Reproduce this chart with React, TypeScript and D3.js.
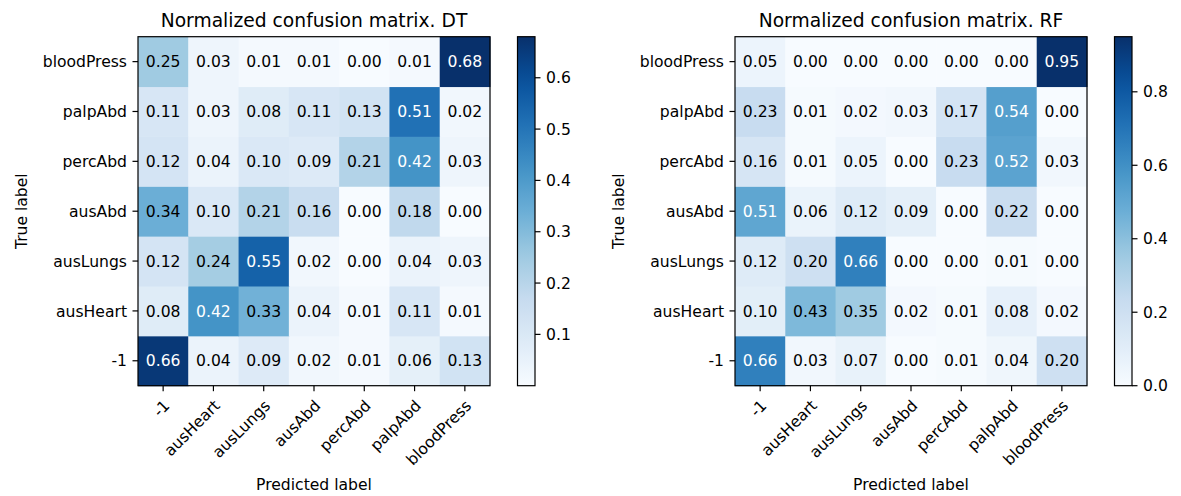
import React from "react";
import * as d3 from "d3";

// class labels, in matrix index order (row / column 0 = "-1")
const labels = ["-1", "ausHeart", "ausLungs", "ausAbd", "percAbd", "palpAbd", "bloodPress"];

// rows = true label, columns = predicted label
const dtValues = [
  [0.66, 0.04, 0.09, 0.02, 0.01, 0.06, 0.13],
  [0.08, 0.42, 0.33, 0.04, 0.01, 0.11, 0.01],
  [0.12, 0.24, 0.55, 0.02, 0.0, 0.04, 0.03],
  [0.34, 0.1, 0.21, 0.16, 0.0, 0.18, 0.0],
  [0.12, 0.04, 0.1, 0.09, 0.21, 0.42, 0.03],
  [0.11, 0.03, 0.08, 0.11, 0.13, 0.51, 0.02],
  [0.25, 0.03, 0.01, 0.01, 0.0, 0.01, 0.68],
];

const rfValues = [
  [0.66, 0.03, 0.07, 0.0, 0.01, 0.04, 0.2],
  [0.1, 0.43, 0.35, 0.02, 0.01, 0.08, 0.02],
  [0.12, 0.2, 0.66, 0.0, 0.0, 0.01, 0.0],
  [0.51, 0.06, 0.12, 0.09, 0.0, 0.22, 0.0],
  [0.16, 0.01, 0.05, 0.0, 0.23, 0.52, 0.03],
  [0.23, 0.01, 0.02, 0.03, 0.17, 0.54, 0.0],
  [0.05, 0.0, 0.0, 0.0, 0.0, 0.0, 0.95],
];

const dtTicks = [0.1, 0.2, 0.3, 0.4, 0.5, 0.6];
const rfTicks = [0.0, 0.2, 0.4, 0.6, 0.8];

// matplotlib "Blues"
const bluesStops = [
  "#f7fbff", "#deebf7", "#c6dbef", "#9ecae1", "#6baed6",
  "#4292c6", "#2171b5", "#08519c", "#08306b",
];

const FONT = "DejaVu Sans, sans-serif";
const FS = 15.6;
const TITLE_FS = 18.7;
const TICK = 5.5;
const PAD = 5.5;

const top = 36.7;
const size = 352;
const bottom = top + 349;

const blues = (t: number) => {
  const s = d3
    .scaleLinear<string>()
    .domain(d3.range(9).map((i) => i / 8))
    .range(bluesStops)
    .interpolate(d3.interpolateRgb)
    .clamp(true);
  return s(t);
};

type Props = {
  id: string;
  title: string;
  values: number[][];
  ticks: number[];
  left: number;
};

const Matrix = ({ id, title, values, ticks, left }: Props) => {
  const flat = values.flat();
  const vmin = d3.min(flat) as number;
  const vmax = d3.max(flat) as number;
  const thresh = vmax / 2;

  const x = d3.scaleBand().domain(d3.range(labels.length).map(String)).range([left, left + size]);
  // origin lower: row 0 at the bottom
  const y = d3
    .scaleBand()
    .domain(d3.range(labels.length).map(String))
    .range([bottom, top]);

  const norm = d3.scaleLinear().domain([vmin, vmax]).range([0, 1]);
  const color = (v: number) => blues(norm(v));

  const cbLeft = left + size + 27.5;
  const cbW = 17.5;
  const cbY = d3.scaleLinear().domain([vmin, vmax]).range([bottom, top]);
  const gradStops = d3.range(0, 1.0001, 0.05);

  const cx = (j: number) => (x(String(j)) as number) + x.bandwidth() / 2;
  const cy = (i: number) => (y(String(i)) as number) + y.bandwidth() / 2;

  return (
    <g fontFamily={FONT} fill="#000">
      <defs>
        <linearGradient id={id} x1="0" y1="1" x2="0" y2="0">
          {gradStops.map((t) => (
            <stop key={t} offset={t} stopColor={blues(t)} />
          ))}
        </linearGradient>
      </defs>

      <text x={left + size / 2} y={top - 9.6} textAnchor="middle" fontSize={TITLE_FS}>
        {title}
      </text>

      {values.map((row, i) =>
        row.map((v, j) => (
          <rect
            key={`${i}-${j}`}
            x={x(String(j))}
            y={y(String(i))}
            width={x.bandwidth() + 0.5}
            height={y.bandwidth() + 0.5}
            fill={color(v)}
          />
        ))
      )}

      {values.map((row, i) =>
        row.map((v, j) => (
          <text
            key={`t${i}-${j}`}
            x={cx(j)}
            y={cy(i)}
            dy="0.36em"
            textAnchor="middle"
            fontSize={FS}
            fill={v > thresh ? "#fff" : "#000"}
          >
            {v.toFixed(2)}
          </text>
        ))
      )}

      <rect x={left} y={top} width={size} height={bottom - top} fill="none" stroke="#000" strokeWidth={1.2} />

      {/* y axis */}
      {labels.map((lab, i) => (
        <g key={`y${lab}`}>
          <line x1={left - TICK} x2={left} y1={cy(i)} y2={cy(i)} stroke="#000" strokeWidth={1.2} />
          <text x={left - TICK - PAD} y={cy(i)} dy="0.36em" textAnchor="end" fontSize={FS}>
            {lab}
          </text>
        </g>
      ))}
      <text
        transform={`translate(${left - 111.5},${(top + bottom) / 2}) rotate(-90)`}
        textAnchor="middle"
        fontSize={FS}
      >
        True label
      </text>

      {/* x axis */}
      {labels.map((lab, j) => (
        <g key={`x${lab}`}>
          <line x1={cx(j)} x2={cx(j)} y1={bottom} y2={bottom + TICK} stroke="#000" strokeWidth={1.2} />
          <text
            transform={`translate(${cx(j) + 7.5},${bottom + 21}) rotate(-45)`}
            textAnchor="end"
            fontSize={FS}
          >
            {lab}
          </text>
        </g>
      ))}
      <text x={left + size / 2} y={bottom + 104} textAnchor="middle" fontSize={FS}>
        Predicted label
      </text>

      {/* colorbar */}
      <rect x={cbLeft} y={top} width={cbW} height={bottom - top} fill={`url(#${id})`} stroke="#000" strokeWidth={1.2} />
      {ticks.map((t) => (
        <g key={`c${t}`}>
          <line x1={cbLeft + cbW} x2={cbLeft + cbW + TICK} y1={cbY(t)} y2={cbY(t)} stroke="#000" strokeWidth={1.2} />
          <text x={cbLeft + cbW + TICK + PAD} y={cbY(t)} dy="0.36em" fontSize={FS}>
            {t.toFixed(1)}
          </text>
        </g>
      ))}
    </g>
  );
};

export default function App() {
  return (
    <svg
      width={1181}
      height={496}
      style={{ position: "absolute", left: 0, top: 0, background: "#fff" }}
    >
      <Matrix id="gradDT" title="Normalized confusion matrix. DT" values={dtValues} ticks={dtTicks} left={138} />
      <Matrix id="gradRF" title="Normalized confusion matrix. RF" values={rfValues} ticks={rfTicks} left={735} />
    </svg>
  );
}
